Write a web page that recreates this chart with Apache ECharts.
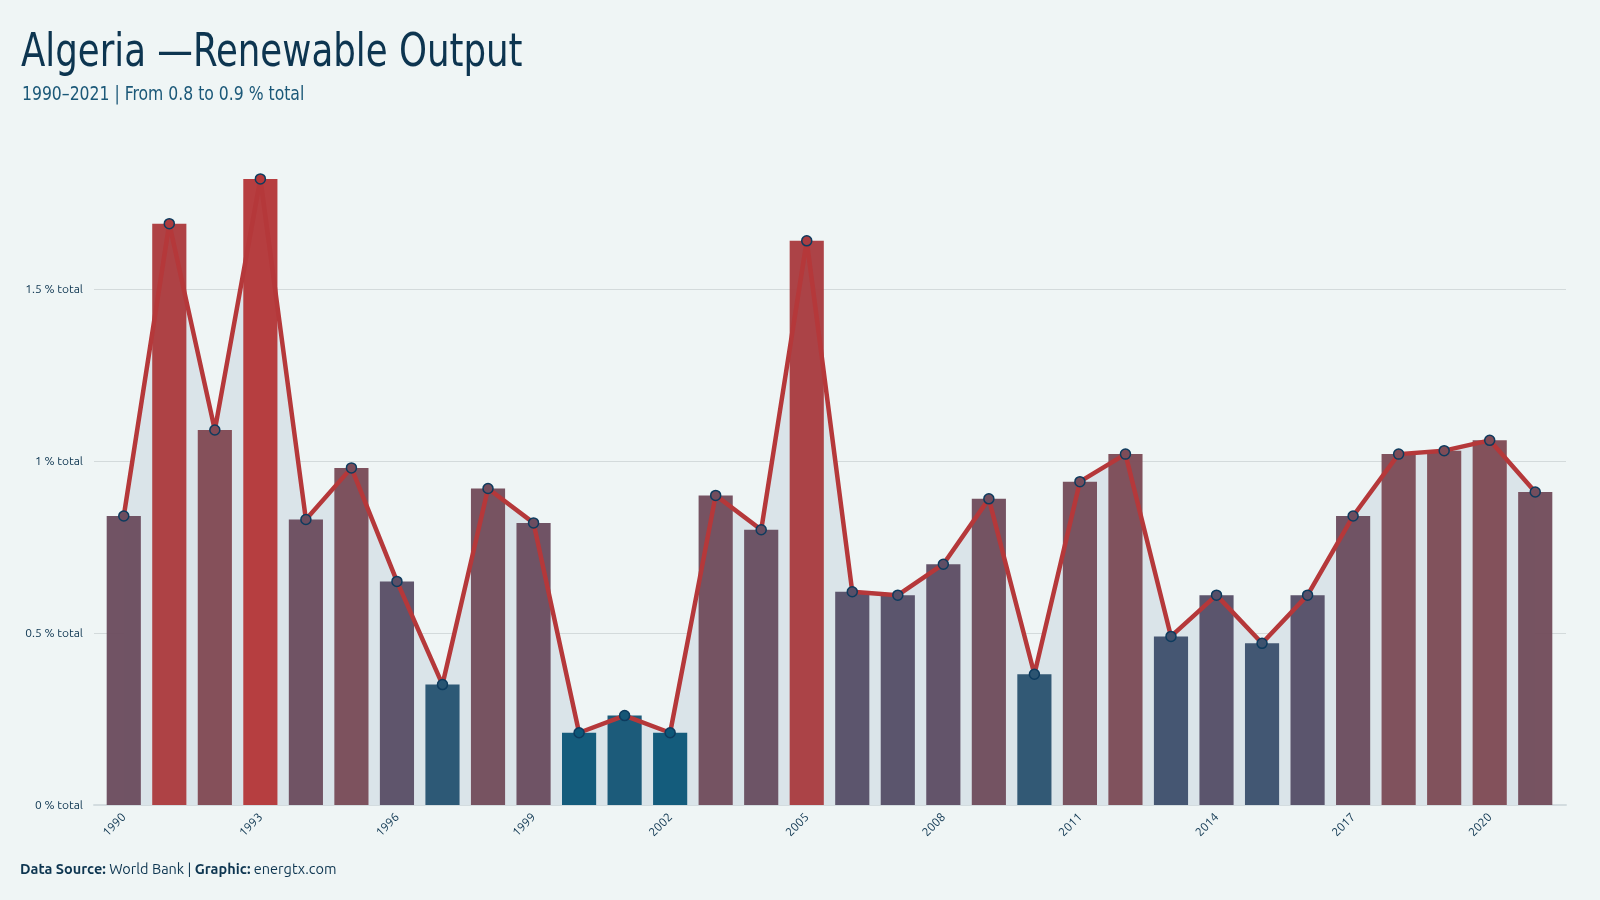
<!DOCTYPE html>
<html>
<head>
<meta charset="utf-8">
<title>Algeria — Renewable Output</title>
<script src="https://cdn.jsdelivr.net/npm/echarts@6/dist/echarts.min.js"></script>
<style>
  html, body { margin: 0; padding: 0; background: #eff5f5; }
  #chart { width: 1600px; height: 900px; }
</style>
</head>
<body>
<div id="chart"></div>
<script>
// data
const years = [
  '1990', '1991', '1992', '1993', '1994', '1995', '1996', '1997', '1998', '1999',
  '2000', '2001', '2002', '2003', '2004', '2005', '2006', '2007', '2008', '2009',
  '2010', '2011', '2012', '2013', '2014', '2015', '2016', '2017', '2018', '2019',
  '2020', '2021'
]
const renewableShare = [
  0.84, 1.69, 1.09, 1.82, 0.83, 0.98, 0.65, 0.35, 0.92, 0.82,
  0.21, 0.26, 0.21, 0.90, 0.80, 1.64, 0.62, 0.61, 0.70, 0.89,
  0.38, 0.94, 1.02, 0.49, 0.61, 0.47, 0.61, 0.84, 1.02, 1.03,
  1.06, 0.91
]
const yTicks = [0, 0.5, 1, 1.5]

// colour ramp low -> high (evenly spaced over the value range)
const ramp = ['#0d5778', '#574f68', '#7d4c58', '#9a4349', '#b5383a']
const vMin = Math.min(...renewableShare)
const vMax = Math.max(...renewableShare)

function hex2rgb(h) {
  return [1, 3, 5].map(i => parseInt(h.slice(i, i + 2), 16))
}
function rampColor(v) {
  const t = (v - vMin) / (vMax - vMin) * (ramp.length - 1)
  const i = Math.min(Math.floor(t), ramp.length - 2)
  const f = t - i
  const a = hex2rgb(ramp[i]), b = hex2rgb(ramp[i + 1])
  const c = a.map((x, k) => Math.round(x + (b[k] - x) * f))
  return 'rgb(' + c.join(',') + ')'
}

const FONT = "'Ubuntu', 'Open Sans', 'Noto Sans', sans-serif"
const TITLE_FONT = "'Ubuntu Condensed', 'DejaVu Sans Condensed', 'DejaVu Sans', sans-serif"
const INK = '#0d3550'

const chart = echarts.init(document.getElementById('chart'))

// same vertical geometry for both grids
const gridTop = 117
const gridBottom = 95
const yMax = 2

chart.setOption({
  backgroundColor: '#eff5f5',
  animation: false,
  textStyle: { fontFamily: FONT },
  title: [
    {
      text: '{b|Data Source:} World Bank | {b|Graphic:} energtx.com',
      left: 20,
      top: 862,
      padding: 0,
      textStyle: {
        fontFamily: FONT, fontSize: 14.5, fontWeight: 'normal', color: INK,
        rich: { b: { fontFamily: FONT, fontSize: 14.5, fontWeight: 'bold', color: INK } }
      }
    }
  ],
  // condensed headline (no Ubuntu Condensed installed, so squeeze horizontally)
  graphic: [
    {
      type: 'text',
      x: 21, y: 31,
      scaleX: 0.86,
      style: {
        text: 'Algeria —Renewable Output',
        font: 'normal 46px ' + TITLE_FONT,
        fill: INK
      }
    },
    {
      type: 'text',
      x: 22, y: 85,
      scaleX: 0.87,
      style: {
        text: '1990–2021 | From 0.8 to 0.9 % total',
        font: 'normal 20px ' + TITLE_FONT,
        fill: '#1b5878'
      }
    }
  ],
  grid: [
    { left: 101, right: 42, top: gridTop, bottom: gridBottom },
    // slightly wider frame that only carries gridlines, y labels and baseline
    { left: 94, right: 34, top: gridTop, bottom: gridBottom }
  ],
  xAxis: [
    {
      type: 'category',
      gridIndex: 0,
      data: years,
      axisLine: { show: false },
      axisTick: { show: false },
      axisLabel: { interval: 2, rotate: 45, fontSize: 12, color: INK, margin: 10 }
    },
    {
      type: 'value',
      gridIndex: 1,
      min: 0, max: 1,
      axisLine: { show: true, lineStyle: { color: '#d3dcdf', width: 2 } },
      axisTick: { show: false },
      axisLabel: { show: false },
      splitLine: { show: false }
    }
  ],
  yAxis: [
    {
      type: 'value',
      gridIndex: 0,
      min: yTicks[0], max: yMax, interval: 0.5,
      axisLine: { show: false },
      axisTick: { show: false },
      axisLabel: { show: false },
      splitLine: { show: false }
    },
    {
      type: 'value',
      gridIndex: 1,
      min: yTicks[0], max: yMax, interval: 0.5,
      axisLine: { show: false },
      axisTick: { show: false },
      axisLabel: {
        fontSize: 12, color: INK, margin: 11, showMaxLabel: false,
        formatter: v => v + ' % total'
      },
      splitLine: { showMaxLine: false, showMinLine: false, lineStyle: { color: '#d3dadb', width: 1 } }
    }
  ],
  series: [
    {
      // shaded area under the line, behind the bars
      type: 'line',
      data: renewableShare,
      z: 1,
      symbol: 'none',
      lineStyle: { width: 0 },
      areaStyle: { color: '#dae4e9', opacity: 1 },
      silent: true
    },
    {
      type: 'bar',
      data: renewableShare,
      z: 2,
      barCategoryGap: '25%',
      itemStyle: { color: p => rampColor(p.value), opacity: 0.97 }
    },
    {
      type: 'line',
      data: renewableShare,
      z: 3,
      symbol: 'circle',
      symbolSize: 10,
      lineStyle: { color: '#b5383a', width: 4.5 },
      itemStyle: {
        color: p => rampColor(p.value),
        borderColor: '#0d3b5e',
        borderWidth: 1.5
      }
    }
  ]
})

window.addEventListener('resize', () => chart.resize())
</script>
</body>
</html>
